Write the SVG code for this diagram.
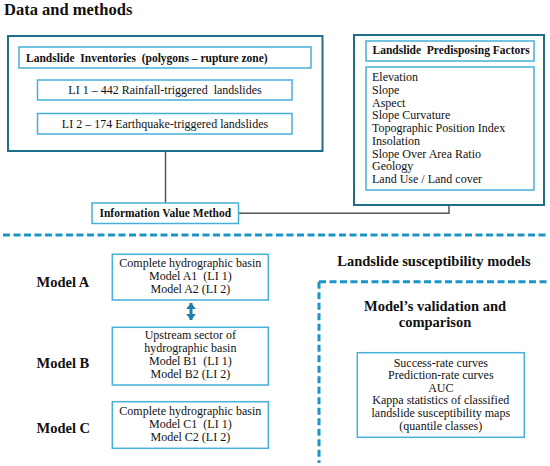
<svg xmlns="http://www.w3.org/2000/svg" width="550" height="466" viewBox="0 0 550 466">
<style>
.b{font-weight:bold}
.t{font-size:12px}
.h{font-size:11.5px;font-weight:bold}
.big{font-size:14.5px;font-weight:bold}
.outer{fill:#fff;stroke:#1f6e8a;stroke-width:2}
.inner{fill:#fff;stroke:#45b0da;stroke-width:1.5}
.conn{fill:none;stroke:#555;stroke-width:1.5}
.dash{fill:none;stroke:#1b95c9;stroke-width:3;stroke-dasharray:7 3.5}
.c{text-anchor:middle}
</style>
<defs>
<marker id="ah" viewBox="0 0 6 10" refX="6" refY="5" markerWidth="2" markerHeight="3.3" orient="auto-start-reverse" markerUnits="strokeWidth">
<path d="M0,0 L6,5 L0,10 Z" fill="#1f7ea8"/>
</marker>
</defs>
<rect width="550" height="466" fill="#fff"/>
<g font-family="Liberation Serif, serif" fill="#111">
<text x="4" y="15" class="b" font-size="16.5">Data and methods</text>

<g id="connectors">
<path class="conn" d="M165.5,151 V203"/>
<path class="conn" d="M238.5,213.3 H449 V205"/>
<path d="M191,303 V320" fill="none" stroke="#1f7ea8" stroke-width="3" marker-start="url(#ah)" marker-end="url(#ah)"/>
</g>

<g id="inventories">
<rect class="outer" x="8" y="36" width="314.5" height="115"/>
<g id="inv-header">
<rect class="inner" x="19" y="47" width="292" height="21"/>
<text x="26" y="61.5" class="h" xml:space="preserve">Landslide  Inventories  (polygons – rupture zone)</text>
</g>
<g id="li1">
<rect class="inner" x="37.5" y="80" width="254.5" height="20"/>
<text x="165" y="93.5" class="t c" xml:space="preserve">LI 1 – 442 Rainfall-triggered  landslides</text>
</g>
<g id="li2">
<rect class="inner" x="37.5" y="113.5" width="254.5" height="20.5"/>
<text x="165" y="127.5" class="t c">LI 2 – 174 Earthquake-triggered landslides</text>
</g>
</g>

<g id="factors">
<rect class="outer" x="354" y="35" width="190" height="170"/>
<g id="factors-header">
<rect class="inner" x="366" y="41" width="168" height="20"/>
<text x="372.5" y="54" class="h" xml:space="preserve">Landslide  Predisposing Factors</text>
</g>
<g id="factors-list">
<rect class="inner" x="366" y="67" width="168" height="123"/>
<text class="t" x="372" y="81">Elevation</text>
<text class="t" x="372" y="93.8">Slope</text>
<text class="t" x="372" y="106.5">Aspect</text>
<text class="t" x="372" y="119.3">Slope Curvature</text>
<text class="t" x="372" y="132">Topographic Position Index</text>
<text class="t" x="372" y="144.8">Insolation</text>
<text class="t" x="372" y="157.5">Slope Over Area Ratio</text>
<text class="t" x="372" y="170.3">Geology</text>
<text class="t" x="372" y="183">Land Use / Land cover</text>
</g>
</g>

<g id="ivm">
<rect class="inner" x="92" y="203" width="146.5" height="20.5"/>
<text x="165.3" y="217" class="h c">Information Value Method</text>
</g>

<g id="dividers">
<path class="dash" d="M3,235 H547"/>
<path class="dash" d="M319,281.7 H547"/>
<path class="dash" d="M319,281.7 V463"/>
</g>

<text x="434" y="266" class="big c">Landslide susceptibility models</text>
<text x="435" y="311" class="big c">Model’s validation and</text>
<text x="435" y="326.5" class="big c">comparison</text>

<text x="36.5" y="286.5" class="big">Model A</text>
<text x="36.5" y="368" class="big">Model B</text>
<text x="36.5" y="433" class="big">Model C</text>

<g id="modelA">
<rect class="inner" x="112.3" y="254.3" width="156" height="45.7"/>
<text x="190.3" y="267" class="t c">Complete hydrographic basin</text>
<text x="190.3" y="280" class="t c" xml:space="preserve">Model A1  (LI 1)</text>
<text x="190.3" y="293" class="t c">Model A2 (LI 2)</text>
</g>

<g id="modelB">
<rect class="inner" x="112.3" y="327.3" width="156" height="57.7"/>
<text x="190.3" y="339" class="t c">Upstream sector of</text>
<text x="190.3" y="352" class="t c">hydrographic basin</text>
<text x="190.3" y="365" class="t c" xml:space="preserve">Model B1  (LI 1)</text>
<text x="190.3" y="378" class="t c">Model B2 (LI 2)</text>
</g>

<g id="modelC">
<rect class="inner" x="112.3" y="401.7" width="156" height="46.6"/>
<text x="190.3" y="414.5" class="t c">Complete hydrographic basin</text>
<text x="190.3" y="427.5" class="t c" xml:space="preserve">Model C1  (LI 1)</text>
<text x="190.3" y="440.5" class="t c">Model C2 (LI 2)</text>
</g>

<g id="validation">
<rect class="inner" x="357.3" y="352.7" width="167" height="84.6"/>
<text x="440.8" y="366.5" class="t c">Success-rate curves</text>
<text x="440.8" y="379" class="t c">Prediction-rate curves</text>
<text x="440.8" y="391.5" class="t c">AUC</text>
<text x="440.8" y="404.3" class="t c">Kappa statistics of classified</text>
<text x="440.8" y="417" class="t c">landslide susceptibility maps</text>
<text x="440.8" y="429.7" class="t c">(quantile classes)</text>
</g>
</g>
</svg>
